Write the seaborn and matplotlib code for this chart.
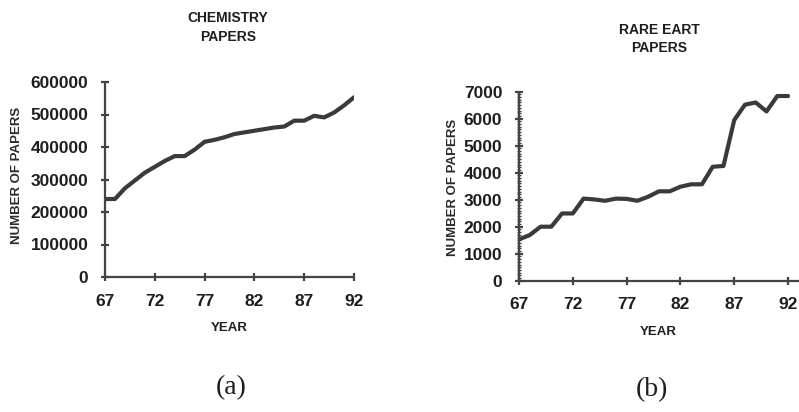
import matplotlib
matplotlib.use("Agg")
import matplotlib.pyplot as plt
import seaborn as sns
import pandas as pd
from matplotlib.ticker import MultipleLocator

sns.set_theme(style="white")
plt.rcParams['font.family'] = ['Liberation Sans', 'DejaVu Sans']

years = list(range(67, 93))
chemistry_papers = [240000, 240000, 273000, 297000, 321000, 339000, 357000, 372000,
                    372000, 392000, 416000, 422000, 430000, 440000, 445000, 450000,
                    455000, 460000, 463000, 481000, 481000, 496000, 491000, 506000,
                    528000, 553000]
rare_earth_papers = [1530, 1690, 2000, 2000, 2490, 2490, 3040, 3010, 2960, 3040,
                     3030, 2960, 3110, 3310, 3310, 3480, 3570, 3570, 4220, 4250,
                     5950, 6520, 6600, 6270, 6840, 6840]
x_ticks = [67, 72, 77, 82, 87, 92]
chem_yticks = [0, 100000, 200000, 300000, 400000, 500000, 600000]
rare_yticks = [0, 1000, 2000, 3000, 4000, 5000, 6000, 7000]

df = pd.DataFrame({"year": years, "chem": chemistry_papers, "rare": rare_earth_papers})

W, H = 799, 412
fig = plt.figure(figsize=(W / 100, H / 100), dpi=100)
fig.patch.set_facecolor("white")

def px(x0, y0, x1, y1):
    return [x0 / W, 1 - y1 / H, (x1 - x0) / W, (y1 - y0) / H]

line_col = "#3a3a3a"
axis_col = "#444444"
txt_col = "#1e1e1e"

def style(ax, yticks, ylim, xlim):
    ax.set_facecolor("white")
    ax.set_xlim(*xlim)
    ax.set_ylim(*ylim)
    ax.set_xticks(x_ticks)
    ax.set_xticklabels([str(t) for t in x_ticks])
    ax.set_yticks(yticks)
    ax.set_yticklabels([str(t) for t in yticks])
    for s in ["top", "right"]:
        ax.spines[s].set_visible(False)
    for s in ["left", "bottom"]:
        ax.spines[s].set_color(axis_col)
        ax.spines[s].set_linewidth(1.6)
        ax.spines[s].set_capstyle("butt")
    ax.tick_params(axis="both", which="major", direction="inout", length=6,
                   width=1.6, color=axis_col, labelsize=12.5, labelcolor=txt_col,
                   bottom=True, left=True)
    ax.tick_params(axis="x", pad=9)
    ax.tick_params(axis="y", pad=9)
    for lab in ax.get_xticklabels() + ax.get_yticklabels():
        lab.set_fontweight("bold")
    ax.set_xlabel("")
    ax.set_ylabel("")
    ax.grid(False)

# Left: chemistry
ax1 = fig.add_axes(px(105, 82, 354, 277))
sns.lineplot(data=df, x="year", y="chem", ax=ax1, color=line_col, linewidth=3.0)
style(ax1, chem_yticks, (0, 600000), (67, 92))

# Right: rare earth
ax2 = fig.add_axes(px(519, 91.7, 798.8, 280.7))
sns.lineplot(data=df, x="year", y="rare", ax=ax2, color=line_col, linewidth=3.0)
style(ax2, rare_yticks, (0, 7000), (67, 93))
ax2.yaxis.set_minor_locator(MultipleLocator(100))
ax2.tick_params(axis="y", which="minor", direction="inout", length=3, width=1.0,
                color=axis_col, left=True)

def ftext(x, y, s, **kw):
    fig.text(x / W, 1 - y / H, s, ha="center", va="center", **kw)

ftext(228, 18, "CHEMISTRY", fontsize=10, fontweight="bold", color=txt_col)
ftext(228, 37, "PAPERS", fontsize=10, fontweight="bold", color=txt_col)
ftext(659, 30, "RARE EART", fontsize=10, fontweight="bold", color=txt_col)
ftext(659, 48, "PAPERS", fontsize=10, fontweight="bold", color=txt_col)

ftext(17, 175, "NUMBER OF PAPERS", fontsize=9.5, fontweight="bold", color="#2a2a2a", rotation=90)
ftext(453, 187, "NUMBER OF PAPERS", fontsize=9.5, fontweight="bold", color="#2a2a2a", rotation=90)

ftext(229, 328, "YEAR", fontsize=9.5, fontweight="bold", color=txt_col)
ftext(658, 332, "YEAR", fontsize=9.5, fontweight="bold", color=txt_col)

ftext(231, 388, "(a)", fontsize=20, family=["Liberation Serif", "DejaVu Serif"], color=txt_col)
ftext(652, 390, "(b)", fontsize=20, family=["Liberation Serif", "DejaVu Serif"], color=txt_col)

fig.savefig("out.png", dpi=100, facecolor="white")
